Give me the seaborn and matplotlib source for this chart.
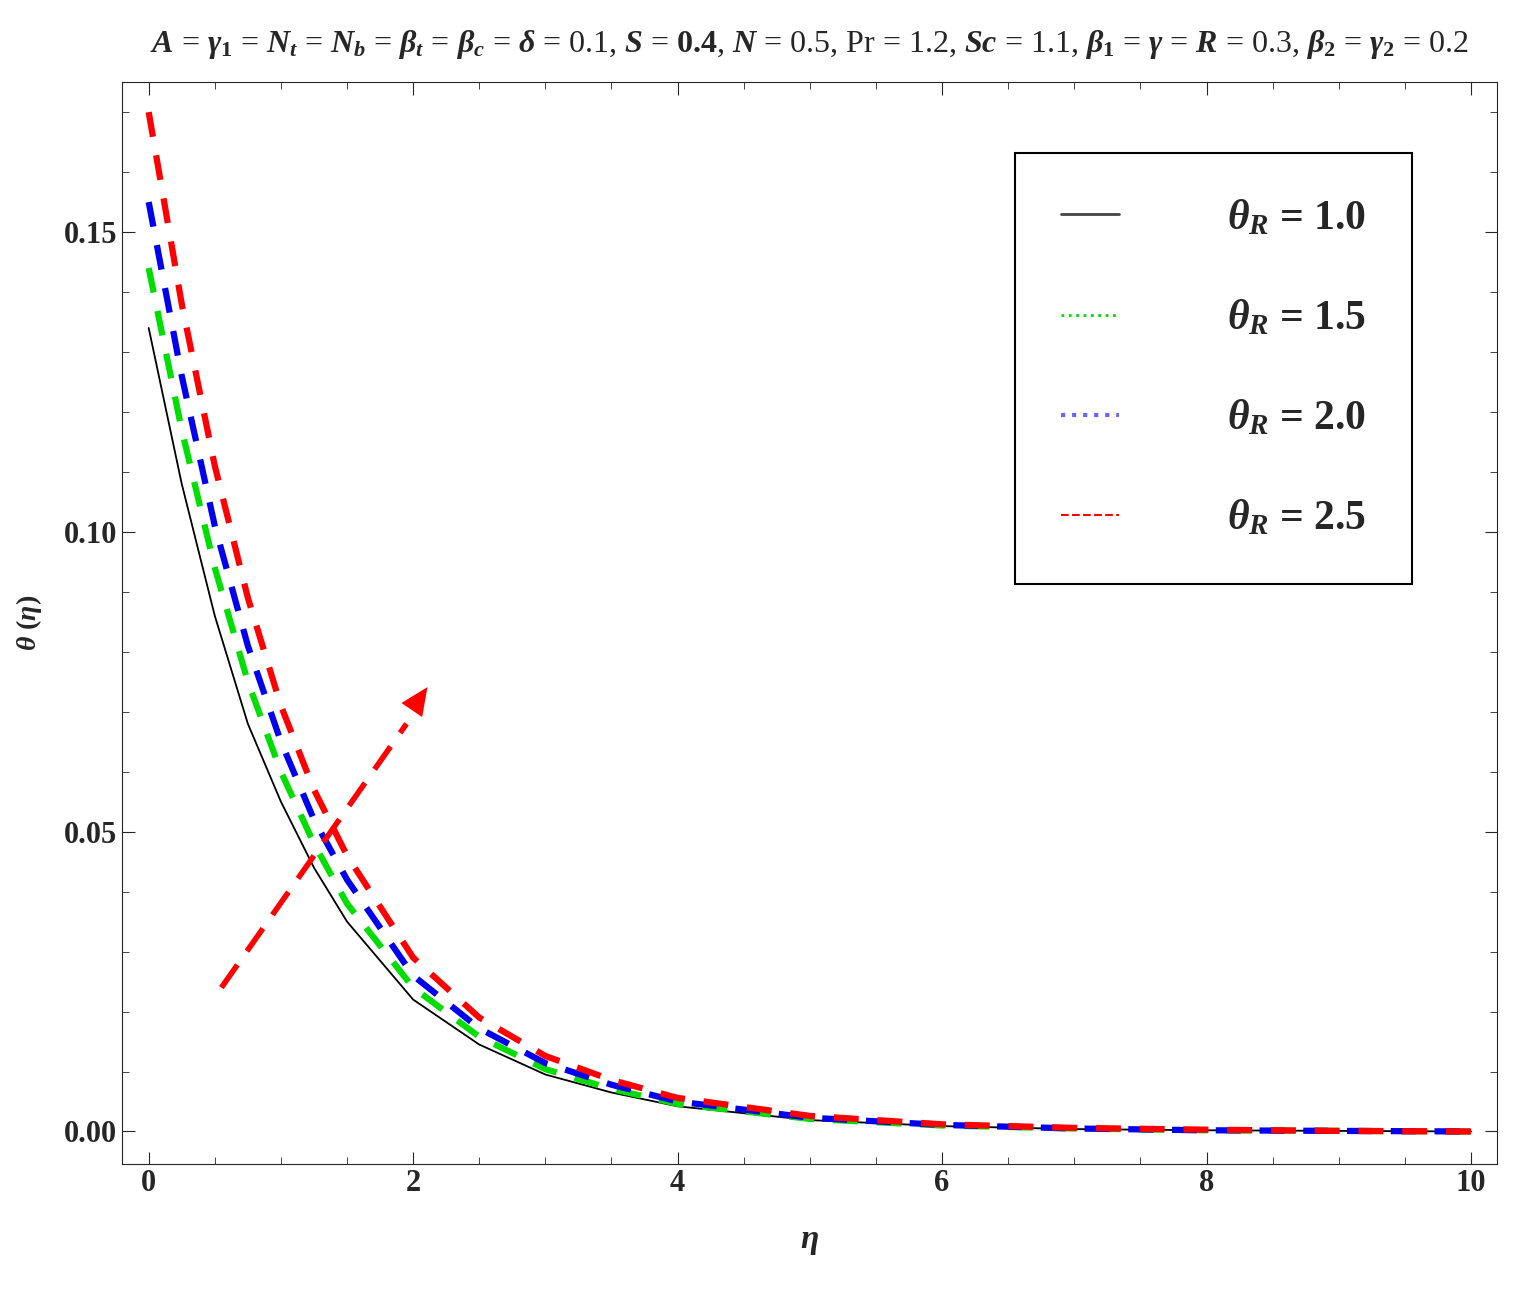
import numpy as np
import matplotlib
matplotlib.use("Agg")
import matplotlib.pyplot as plt
import seaborn as sns
from matplotlib.lines import Line2D
from matplotlib.ticker import MultipleLocator

sns.set_style("ticks")
plt.rcParams['font.family'] = ['Liberation Serif', 'DejaVu Serif']
plt.rcParams['font.weight'] = 'bold'
plt.rcParams['mathtext.fontset'] = 'custom'
plt.rcParams['mathtext.it'] = 'Liberation Serif:italic:bold'
plt.rcParams['mathtext.rm'] = 'Liberation Serif:bold'
plt.rcParams['mathtext.bf'] = 'Liberation Serif:bold'

# data
eta = [0, 0.25, 0.5, 0.75, 1.0, 1.25, 1.5, 2.0, 2.5, 3.0, 3.5, 4.0, 5.0, 6.0, 7.0, 8.0, 9.0, 10.0]
theta_10 = [0.134, 0.108, 0.086, 0.068, 0.055, 0.044, 0.035, 0.022, 0.0145, 0.0095, 0.0065, 0.0042, 0.0019, 0.0009, 0.0004, 0.0002, 0.0001, 0.0]
theta_15 = [0.144, 0.117, 0.094, 0.075, 0.060, 0.048, 0.038, 0.024, 0.0158, 0.0104, 0.0071, 0.0046, 0.0021, 0.0010, 0.0005, 0.0002, 0.0001, 0.0]
theta_20 = [0.155, 0.126, 0.101, 0.081, 0.065, 0.052, 0.042, 0.026, 0.0172, 0.0114, 0.0078, 0.0050, 0.0023, 0.0011, 0.0005, 0.0002, 0.0001, 0.0]
theta_25 = [0.170, 0.138, 0.111, 0.089, 0.071, 0.057, 0.046, 0.029, 0.0190, 0.0126, 0.0086, 0.0056, 0.0026, 0.0012, 0.0006, 0.0003, 0.0001, 0.0]
labels = [r'$\theta_R$ = 1.0', r'$\theta_R$ = 1.5', r'$\theta_R$ = 2.0', r'$\theta_R$ = 2.5']

fig = plt.figure(figsize=(15.28, 13.04), dpi=100)
ax = fig.add_axes([0.08, 0.107, 0.9, 0.83])

ax.plot(eta, theta_10, color='black', lw=1.3)
for ys, c in zip([theta_15, theta_20, theta_25], ['#00dd00', '#0000ee', '#ff0000']):
    ax.plot(eta, ys, color=c, lw=4.5, dashes=(4, 3))

# arrow showing increasing theta_R
ax.plot([0.55, 1.95], [0.024, 0.068], color='#ff0000', lw=4, dashes=(5, 3))
ax.annotate('', xy=(2.12, 0.0745), xytext=(1.75, 0.0625),
            arrowprops=dict(arrowstyle='-|>,head_length=2.0,head_width=0.9',
                            color='#ff0000', lw=0))

ax.set_xlim(-0.2, 10.2)
ax.set_ylim(-0.0055, 0.175)
ax.set_xticks([0, 2, 4, 6, 8, 10])
ax.set_yticks([0.0, 0.05, 0.10, 0.15])
ax.set_yticklabels(['0.00', '0.05', '0.10', '0.15'])
ax.xaxis.set_minor_locator(MultipleLocator(0.5))
ax.yaxis.set_minor_locator(MultipleLocator(0.01))
ax.tick_params(which='both', direction='in', top=True, right=True, labelsize=22)
ax.tick_params(which='major', length=9)
ax.tick_params(which='minor', length=5)
ax.set_xlabel(r'$\eta$', fontsize=24, labelpad=20)
ax.set_ylabel(r'$\theta\ (\eta)$', fontsize=20, labelpad=14)
ax.set_title(r'$A$ = $\gamma_1$ = $N_t$ = $N_b$ = $\beta_t$ = $\beta_c$ = $\delta$ = 0.1, $S$ = $0.4$, '
             r'$N$ = 0.5, Pr = 1.2, $Sc$ = 1.1, $\beta_1$ = $\gamma$ = $R$ = 0.3, $\beta_2$ = $\gamma_2$ = 0.2',
             fontsize=23, pad=22)

handles = [Line2D([], [], color='#444444', lw=2),
           Line2D([], [], color='#00dd00', lw=2, ls=':'),
           Line2D([], [], color='#6666ff', lw=3, ls=':'),
           Line2D([], [], color='#ff0000', lw=1.5, ls='--')]
leg = ax.legend(handles, labels, loc='upper right', bbox_to_anchor=(0.938, 0.935),
                borderaxespad=0, fontsize=30, handlelength=1.4, handletextpad=2.6,
                labelspacing=1.45, borderpad=1.1, fancybox=False, framealpha=1,
                edgecolor='black')
leg.get_frame().set_linewidth(1.5)

fig.savefig('out.png', dpi=100)
